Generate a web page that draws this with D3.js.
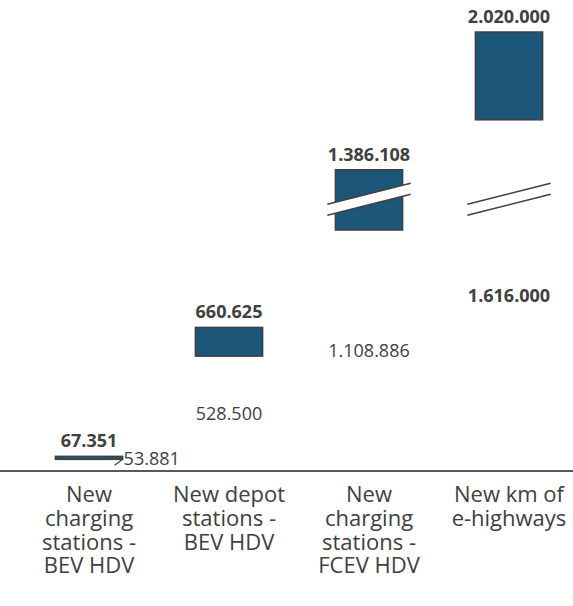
<!DOCTYPE html>
<html>
<head>
<meta charset="utf-8">
<script src="https://cdn.jsdelivr.net/npm/d3@7"></script>
<style>
  body { margin: 0; background: #fff; }
  svg { display: block; font-family: "Open Sans", sans-serif; }
  .val { fill: #404040; font-size: 18px; }
  .cat { fill: #404040; font-size: 22px; }
</style>
</head>
<body>
<svg></svg>
<script>
var categories = ["New charging stations - BEV HDV", "New depot stations - BEV HDV",
                  "New charging stations - FCEV HDV", "New km of e-highways"],
    categoryLines = [["New", "charging", "stations -", "BEV HDV"],
                     ["New depot", "stations -", "BEV HDV"],
                     ["New", "charging", "stations -", "FCEV HDV"],
                     ["New km of", "e-highways"]],
    lowValues = [53881, 528500, 1108886, 1616000],
    highValues = [67351, 660625, 1386108, 2020000],
    breakValue = 1250000;

var width = 573,
    height = 606,
    svg = d3.select("svg").attr("width", width).attr("height", height),
    barColor = "#1c5679",
    ink = "#404040",
    fmt = d3.formatLocale({decimal: ",", thousands: ".", grouping: [3], currency: ["", ""]}).format(",d");

var x = d3.scaleBand()
    .domain(categories)
    .range([19, 579])
    .paddingInner(0.52)
    .paddingOuter(0.26);

var y = d3.scaleLinear()
    .domain([0, 2020000])
    .range([471, 32]);

var data = categories.map(function(c, i) {
    return {cat: c, lines: categoryLines[i], lo: lowValues[i], hi: highValues[i], i: i};
});

// floating bars
svg.selectAll(".bar")
    .data(data)
    .enter().append("rect")
    .attr("class", "bar")
    .attr("x", function(d) { return x(d.cat); })
    .attr("y", function(d) { return y(d.hi); })
    .attr("width", x.bandwidth())
    .attr("height", function(d) { return Math.max(3, y(d.lo) - y(d.hi)); })
    .style("fill", barColor)
    .style("stroke", ink)
    .style("stroke-width", 1.5);

// axis breaks
var broken = data.filter(function(d) { return d.hi > breakValue; });
var brk = svg.selectAll(".brk")
    .data(broken)
    .enter().append("g")
    .attr("class", "brk");

function breakEdge(d, off) {
    var x0 = x(d.cat) - 8, x1 = x(d.cat) + x.bandwidth() + 8, c = y(breakValue);
    return [[x0, c + 10.5 + off], [x1, c - 10.5 + off]];
}

brk.append("path")
    .attr("d", function(d) {
        var a = breakEdge(d, -5.5), b = breakEdge(d, 5.5);
        return d3.line()([a[0], a[1], b[1], b[0]]) + "Z";
    })
    .style("fill", "#fff");

[-5.5, 5.5].forEach(function(off) {
    brk.append("path")
        .attr("d", function(d) { return d3.line()(breakEdge(d, off)); })
        .style("fill", "none")
        .style("stroke", ink)
        .style("stroke-width", 1.5);
});

// small leader tick on the thin first bar
svg.append("line")
    .datum(data[0])
    .attr("x1", function(d) { return x(d.cat) + x.bandwidth() - 8; })
    .attr("y1", function(d) { return y(d.lo) + 6; })
    .attr("x2", function(d) { return x(d.cat) + x.bandwidth(); })
    .attr("y2", function(d) { return y(d.lo); })
    .style("stroke", ink)
    .style("stroke-width", 1.2);

// baseline
svg.append("line")
    .attr("x1", 0).attr("x2", width)
    .attr("y1", y(0)).attr("y2", y(0))
    .style("stroke", "#595959")
    .style("stroke-width", 2);

// high value labels
svg.selectAll(".hi")
    .data(data)
    .enter().append("text")
    .attr("class", "val hi")
    .attr("x", function(d) { return x(d.cat) + x.bandwidth() / 2; })
    .attr("y", function(d) { return y(d.hi) - 9; })
    .attr("text-anchor", "middle")
    .style("font-weight", "bold")
    .text(function(d) { return fmt(d.hi); });

// low value labels, centred on the hidden base
svg.selectAll(".lo")
    .data(data)
    .enter().append("text")
    .attr("class", "val lo")
    .attr("x", function(d) {
        return d.i === 0 ? x(d.cat) + x.bandwidth() + 1 : x(d.cat) + x.bandwidth() / 2;
    })
    .attr("y", function(d) { return d.i === 0 ? y(d.lo) - 1 : y(d.lo / 2); })
    .attr("dy", "0.35em")
    .attr("text-anchor", function(d) { return d.i === 0 ? "start" : "middle"; })
    .style("font-weight", function(d) { return d.i === 3 ? "bold" : "normal"; })
    .text(function(d) { return fmt(d.lo); });

// category labels
svg.selectAll(".cat")
    .data(data)
    .enter().append("text")
    .attr("class", "cat")
    .attr("text-anchor", "middle")
    .selectAll("tspan")
    .data(function(d) { return d.lines.map(function(t) { return {t: t, cx: x(d.cat) + x.bandwidth() / 2}; }); })
    .enter().append("tspan")
    .attr("x", function(d) { return d.cx; })
    .attr("y", function(d, i) { return 502 + i * 23.8; })
    .text(function(d) { return d.t; });
</script>
</body>
</html>
